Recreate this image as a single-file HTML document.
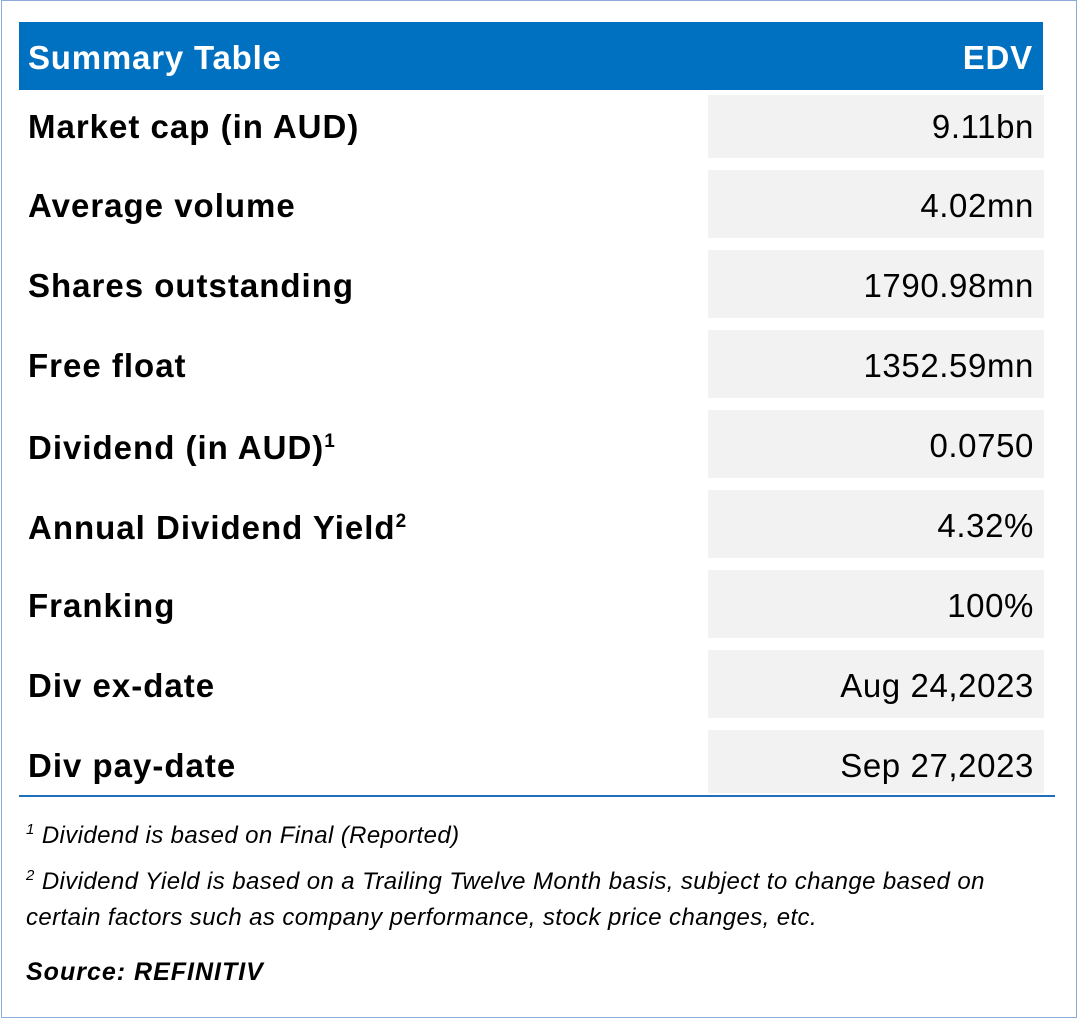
<!DOCTYPE html>
<html><head><meta charset="utf-8"><style>
body{margin:0;width:1079px;height:1019px;background:#fff;position:relative;overflow:hidden;font-family:"Liberation Sans",Carlito,sans-serif;}
.frame{position:absolute;left:1px;top:0;width:1074px;height:1016px;border:1px solid #8eaad8;}
.hdr{position:absolute;left:19px;top:22px;width:1024px;height:68px;background:#0070c0;color:#fff;font-weight:bold;font-size:33px;letter-spacing:0.8px;}
.hdr span{position:absolute;top:17px;line-height:38px;}
.lbl{position:absolute;left:28px;font-weight:bold;font-size:33px;letter-spacing:1px;line-height:38px;color:#000;}
.val{position:absolute;left:708px;width:336px;background:#f2f2f2;font-size:33px;letter-spacing:0.6px;color:#000;text-align:right;box-sizing:border-box;padding-right:10px;}
sup{font-size:19px;line-height:0;}
.line{position:absolute;left:19px;top:795px;width:1036px;height:2px;background:#1f6fbf;}
.fn{position:absolute;left:26px;font-style:italic;font-size:24px;letter-spacing:0.4px;line-height:28px;color:#000;white-space:nowrap;}
</style></head><body>
<div class="frame"></div>
<div class="hdr"><span style="left:9px">Summary Table</span><span style="right:10px">EDV</span></div>

<div class="lbl" style="top:108px">Market cap (in AUD)</div>
<div class="val" style="top:95px;height:63px;line-height:64px">9.11bn</div>

<div class="lbl" style="top:187px">Average volume</div>
<div class="val" style="top:170px;height:68px;line-height:72px">4.02mn</div>

<div class="lbl" style="top:267px">Shares outstanding</div>
<div class="val" style="top:250px;height:68px;line-height:72px">1790.98mn</div>

<div class="lbl" style="top:347px">Free float</div>
<div class="val" style="top:330px;height:68px;line-height:72px">1352.59mn</div>

<div class="lbl" style="top:429px">Dividend (in AUD)<sup>1</sup></div>
<div class="val" style="top:410px;height:68px;line-height:72px">0.0750</div>

<div class="lbl" style="top:509px">Annual Dividend Yield<sup>2</sup></div>
<div class="val" style="top:490px;height:68px;line-height:72px">4.32%</div>

<div class="lbl" style="top:587px">Franking</div>
<div class="val" style="top:570px;height:68px;line-height:72px">100%</div>

<div class="lbl" style="top:667px">Div ex-date</div>
<div class="val" style="top:650px;height:68px;line-height:72px">Aug 24,2023</div>

<div class="lbl" style="top:747px">Div pay-date</div>
<div class="val" style="top:730px;height:63px;line-height:72px">Sep 27,2023</div>

<div class="line"></div>

<div class="fn" style="top:822px"><sup style="font-size:15px">1</sup> Dividend is based on Final (Reported)</div>
<div class="fn" style="top:868px"><sup style="font-size:15px">2</sup> Dividend Yield is based on a Trailing Twelve Month basis, subject to change based on</div>
<div class="fn" style="top:904px">certain factors such as company performance, stock price changes, etc.</div>
<div class="fn" style="top:958px;font-weight:bold;font-size:25px;letter-spacing:1px">Source: REFINITIV</div>
</body></html>
